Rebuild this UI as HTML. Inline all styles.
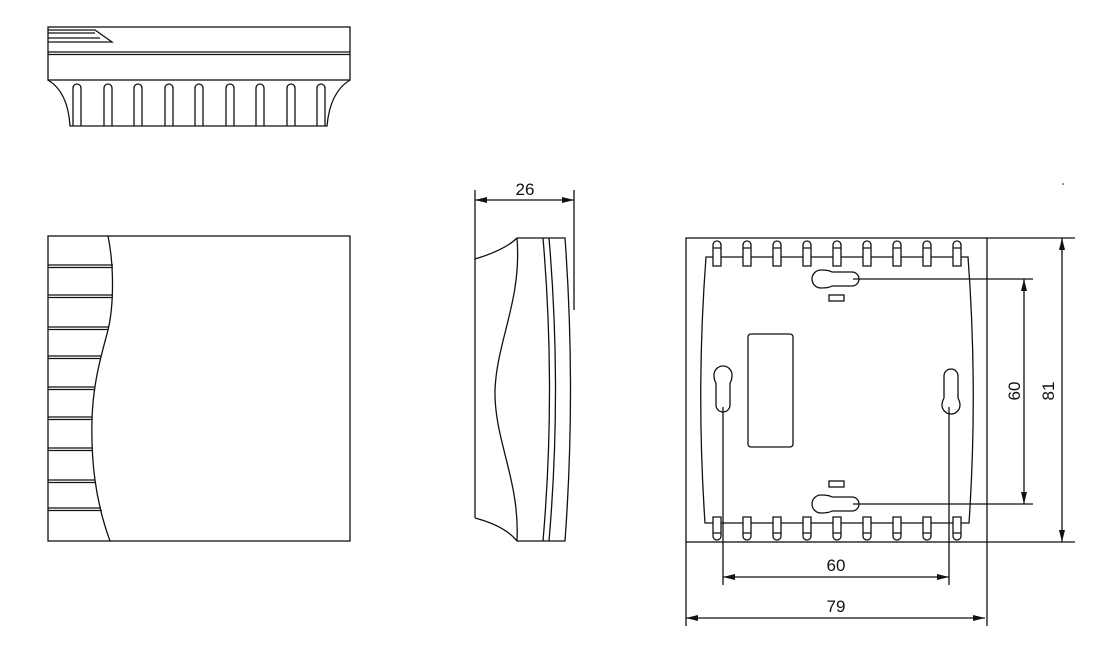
<!DOCTYPE html>
<html><head><meta charset="utf-8"><style>
html,body{margin:0;padding:0;background:#fff;}
svg{display:block;}
text{font-family:"Liberation Sans Narrow","Liberation Sans",sans-serif;font-size:17px;fill:#111;}
</style></head><body>
<svg width="1101" height="654" viewBox="0 0 1101 654" xmlns="http://www.w3.org/2000/svg">
<defs>
<marker id="a" viewBox="0 0 12 6" refX="12" refY="3" markerWidth="12" markerHeight="6" orient="auto-start-reverse" markerUnits="userSpaceOnUse"><path d="M0,0 L12,3 L0,6 z" fill="#111"/></marker>
<g id="slot"><path d="M-4,42 V4 A4,4 0 0 1 4,4 V42" fill="none"/></g>
<g id="tab"><path d="M-4,24 V3 A4,4 0 0 1 4,3 V24 Z M-4,6 H4" fill="#fff"/></g>
<g id="tabb"><path d="M-4,0 V19 A4,4 0 0 0 4,19 V0 Z M-4,16 H4" fill="#fff"/></g>
</defs>
<g fill="none" stroke="#111" stroke-width="1.3">
<!-- top view -->
<rect x="48" y="27" width="302" height="53"/>
<line x1="48" y1="52" x2="350" y2="52"/><line x1="48" y1="54.5" x2="350" y2="54.5"/>
<path d="M48,30 H95 L112,42 H48 M48,33 H95 M48,38 H100"/>
<path d="M48,80 Q68,92 70,126 H327 Q330,92 350,80"/>
<use href="#slot" x="77" y="84"/><use href="#slot" x="108" y="84"/><use href="#slot" x="138" y="84"/>
<use href="#slot" x="169" y="84"/><use href="#slot" x="199" y="84"/><use href="#slot" x="230" y="84"/>
<use href="#slot" x="260" y="84"/><use href="#slot" x="291" y="84"/><use href="#slot" x="321" y="84"/>
<!-- front view -->
<rect x="48" y="236" width="302" height="305"/>
<path d="M108,236 C114,265 114,305 108,330 C103,350 93,380 92,420 C91,460 95,500 110,541"/>
<path d="M48,265 H113 M48,267.5 H113 M48,295 H113 M48,297.5 H113 M48,327 H109 M48,329.5 H108 M48,356 H101 M48,358.5 H100 M48,387 H95 M48,389.5 H95 M48,417 H92 M48,419.5 H92 M48,448 H92 M48,450.5 H92 M48,480 H95 M48,482.5 H95 M48,508 H101 M48,510.5 H102"/>
<!-- side view -->
<line x1="475" y1="190" x2="475" y2="518"/>
<line x1="574" y1="190" x2="574" y2="310"/>
<line x1="475" y1="200" x2="574" y2="200" marker-start="url(#a)" marker-end="url(#a)"/>
<path d="M475,259 Q505,250 517,238 H565 Q576,390 565,541 H517 Q505,526 475,518"/>
<path d="M517,238 C522,300 497,340 495,390 C494,440 520,480 517,541"/>
<path d="M543,238 Q556,390 543,541 M549,238 Q562,390 549,541"/>
<!-- back view -->
<rect x="686" y="238" width="301" height="304"/>
<line x1="987" y1="238" x2="1075" y2="238"/><line x1="987" y1="542" x2="1075" y2="542"/>
<line x1="1062" y1="238" x2="1062" y2="542" marker-start="url(#a)" marker-end="url(#a)"/>
<line x1="686" y1="542" x2="686" y2="626"/><line x1="987" y1="542" x2="987" y2="626"/>
<line x1="686" y1="618" x2="985" y2="618" marker-start="url(#a)" marker-end="url(#a)"/>
<line x1="723" y1="407" x2="723" y2="585"/><line x1="949" y1="407" x2="949" y2="585"/>
<line x1="723" y1="577" x2="949" y2="577" marker-start="url(#a)" marker-end="url(#a)"/>
<line x1="853" y1="279" x2="1033" y2="279"/><line x1="853" y1="504" x2="1033" y2="504"/>
<line x1="1024" y1="279" x2="1024" y2="504" marker-start="url(#a)" marker-end="url(#a)"/>
<path d="M706,257 H968 Q978,390 969,523 H705 Q696,390 706,257 Z"/>
<path d="M821,270 Q829,270 832,272 H852 A7,7 0 0 1 852,286 H832 Q829,288 821,288 A9,9 0 0 1 821,270 Z"/>
<path d="M821,495 Q829,495 832,497 H852 A7,7 0 0 1 852,511 H832 Q829,513 821,513 A9,9 0 0 1 821,495 Z"/>
<rect x="829" y="295" width="15" height="6"/><rect x="829" y="481" width="15" height="6"/>
<rect x="748" y="334" width="45" height="113" rx="3"/>
<path d="M714,375 A9,9 0 0 1 732,375 Q732,380 730,383 V405 A7,7 0 0 1 716,405 V383 Q714,380 714,375 Z"/>
<path d="M944,376 A7,7 0 0 1 958,376 V398 Q960,402 960,405 A9,9 0 0 1 942,405 Q942,402 944,398 Z"/>
<use href="#tab" x="717" y="242"/><use href="#tab" x="747" y="242"/><use href="#tab" x="777" y="242"/>
<use href="#tab" x="807" y="242"/><use href="#tab" x="837" y="242"/><use href="#tab" x="867" y="242"/>
<use href="#tab" x="897" y="242"/><use href="#tab" x="927" y="242"/><use href="#tab" x="957" y="242"/>
<use href="#tabb" x="717" y="517"/><use href="#tabb" x="747" y="517"/><use href="#tabb" x="777" y="517"/>
<use href="#tabb" x="807" y="517"/><use href="#tabb" x="837" y="517"/><use href="#tabb" x="867" y="517"/>
<use href="#tabb" x="897" y="517"/><use href="#tabb" x="927" y="517"/><use href="#tabb" x="957" y="517"/>
</g>
<circle cx="1063" cy="184" r="0.8" fill="#111"/>
<text x="525" y="195" text-anchor="middle">26</text>
<text x="836" y="571" text-anchor="middle">60</text>
<text x="836" y="612" text-anchor="middle">79</text>
<text transform="translate(1020,391) rotate(-90)" text-anchor="middle">60</text>
<text transform="translate(1054,391) rotate(-90)" text-anchor="middle">81</text>
</svg>
</body></html>
